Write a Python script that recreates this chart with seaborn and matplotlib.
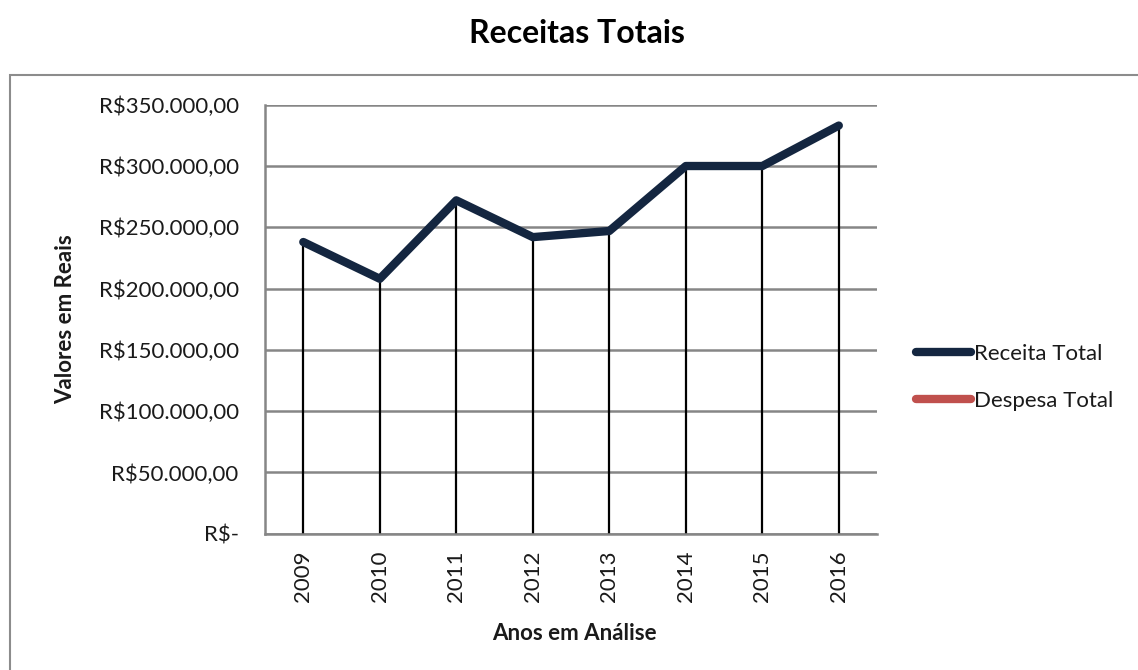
import matplotlib
matplotlib.use("Agg")
import matplotlib.pyplot as plt
import matplotlib.patches as mpatches
from matplotlib.lines import Line2D
from matplotlib.ticker import FuncFormatter
import seaborn as sns
import pandas as pd

# --- dados ---
anos = [2009, 2010, 2011, 2012, 2013, 2014, 2015, 2016]
receita_total = [238000, 208000, 272000, 242000, 247000, 300000, 300000, 333000]
y_ticks = [0, 50000, 100000, 150000, 200000, 250000, 300000, 350000]

COR_RECEITA = "#142640"
COR_DESPESA = "#C0504D"
COR_GRADE = "#868686"
COR_TEXTO = "#1a1a1a"

sns.set_style("white")
plt.rcParams['font.family'] = ['Lato', 'DejaVu Sans']
plt.rcParams['font.size'] = 16
plt.rcParams['text.color'] = COR_TEXTO
plt.rcParams['axes.labelcolor'] = COR_TEXTO
plt.rcParams['xtick.color'] = COR_TEXTO
plt.rcParams['ytick.color'] = COR_TEXTO


def fmt_reais(v, pos):
    if v == 0:
        return "R$-"
    s = f"{v:,.2f}".replace(",", "X").replace(".", ",").replace("X", ".")
    return "R$" + s


df = pd.DataFrame({"Ano": anos, "Receita": receita_total})

fig = plt.figure(figsize=(11.38, 6.70), dpi=100)
ax = fig.add_axes([0.2329, 0.2033, 0.5378, 0.6404])

# moldura do gráfico
fig.patches.append(mpatches.Rectangle((0.0088, -0.02), 1.1, 0.908, transform=fig.transFigure,
                                      fill=False, edgecolor="#8c8c8c", linewidth=1.5))

ax.vlines(df["Ano"], 0, df["Receita"], color="black", linewidth=1.6, zorder=2)
sns.lineplot(data=df, x="Ano", y="Receita", ax=ax, color=COR_RECEITA, linewidth=6,
             solid_capstyle="round", solid_joinstyle="round", zorder=3)

ax.set_xlim(anos[0] - 0.5, anos[-1] + 0.5)
ax.set_ylim(0, 350000)
ax.set_yticks(y_ticks)
ax.yaxis.set_major_formatter(FuncFormatter(fmt_reais))
ax.set_xticks(anos)
ax.set_xticklabels([str(a) for a in anos], rotation=90)

ax.grid(axis="y", color=COR_GRADE, linewidth=1.8)
ax.set_axisbelow(True)
for side in ["top", "right"]:
    ax.spines[side].set_visible(False)
ax.spines["left"].set_color(COR_GRADE)
ax.spines["left"].set_linewidth(1.8)
ax.spines["bottom"].set_color(COR_GRADE)
ax.spines["bottom"].set_linewidth(1.8)
ax.tick_params(axis="y", length=7, width=1.8, color=COR_GRADE, labelcolor=COR_TEXTO,
               pad=12, labelsize=16)
ax.tick_params(axis="x", length=0, pad=12, labelsize=16)

ax.set_xlabel("Anos em Análise", fontsize=16, fontweight="bold")
ax.set_ylabel("Valores em Reais", fontsize=16, fontweight="bold")
ax.xaxis.set_label_coords(0.505, -0.208)
ax.yaxis.set_label_coords(-0.309, 0.5)

fig.suptitle("Receitas Totais", x=0.507, y=0.972, fontsize=23, fontweight="bold",
             color="black")

handles = [Line2D([0], [0], color=COR_RECEITA, linewidth=6, solid_capstyle="round"),
           Line2D([0], [0], color=COR_DESPESA, linewidth=6, solid_capstyle="round")]
fig.legend(handles, ["Receita Total", "Despesa Total"], loc="center left",
           bbox_to_anchor=(0.787, 0.437), frameon=False, fontsize=16,
           handlelength=2.5, handletextpad=0.12, labelspacing=1.2)

fig.savefig("out.png", dpi=100)
